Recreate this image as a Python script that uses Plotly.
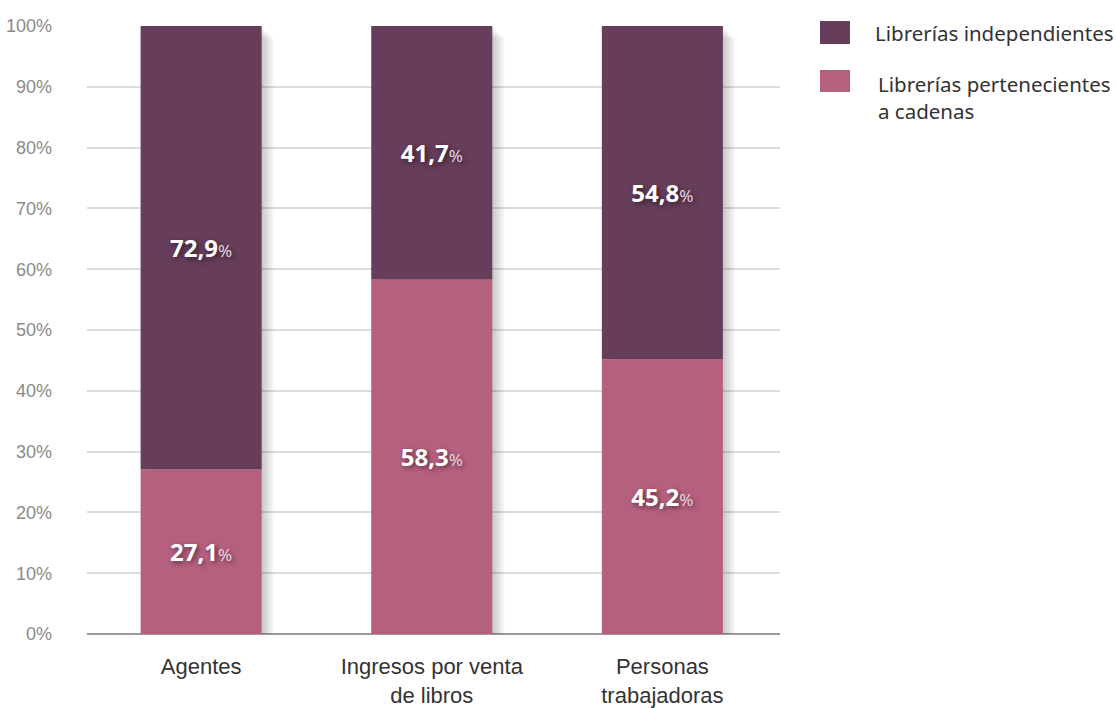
import plotly.graph_objects as go

categories = ["Agentes", "Ingresos por venta<br>de libros", "Personas<br>trabajadoras"]
independientes = [72.9, 41.7, 54.8]
cadenas = [27.1, 58.3, 45.2]
series_names = ["Librerías independientes", "Librerías pertenecientes<br>a cadenas"]
tick_vals = [0, 10, 20, 30, 40, 50, 60, 70, 80, 90, 100]
tick_text = [f"{v}%" for v in tick_vals]

DARK = "#663d5a"
PINK = "#b6607f"
LABEL_FONT = "Noto Sans, Open Sans, sans-serif"
AXIS_FONT = "Liberation Sans, Arial, sans-serif"
BAR_W = 0.525
PX_X = 1 / 230.5      # one pixel in category units
PX_Y = 100 / 608      # one pixel in value units


def label(v):
    num = f"{v:.1f}".replace(".", ",")
    return (f"<b>{num}</b><span style='font-size:17px;font-weight:normal;"
            f"fill:#ead7e0'>%</span>")


totals = [c + i for c, i in zip(cadenas, independientes)]

fig = go.Figure()
# soft drop shadow behind the bars
for s in [2, 4, 6, 8, 10, 12]:
    fig.add_trace(go.Bar(
        x=categories, y=[t - s * PX_Y for t in totals], base=0,
        width=BAR_W, offset=-BAR_W / 2 + s * PX_X,
        marker_color="rgba(0,0,0,0.035)", marker_line_width=0,
        showlegend=False, hoverinfo="skip",
    ))

fig.add_trace(go.Bar(
    x=categories, y=cadenas, base=0, width=BAR_W,
    marker_color=PINK, marker_line_width=0, showlegend=False,
    text=[label(v) for v in cadenas], textposition="inside",
    insidetextanchor="middle",
    textfont=dict(family=LABEL_FONT, size=24, color="white",
                  shadow="2px 2px 5px rgba(0,0,0,0.5)"),
    hoverinfo="skip",
))
fig.add_trace(go.Bar(
    x=categories, y=independientes, base=cadenas, width=BAR_W,
    marker_color=DARK, marker_line_width=0, showlegend=False,
    text=[label(v) for v in independientes], textposition="inside",
    insidetextanchor="middle",
    textfont=dict(family=LABEL_FONT, size=24, color="white",
                  shadow="2px 2px 5px rgba(0,0,0,0.5)"),
    hoverinfo="skip",
))

# legend drawn as paper-positioned squares and text
legend_rows = [
    dict(sq=(1.0577, 1.101, 0.9704, 1.0082), tx=1.1342, ty=0.9885),
    dict(sq=(1.0577, 1.101, 0.8914, 0.9276), tx=1.1385, ty=0.8824),
]
for name, col, row in zip(series_names, [DARK, PINK], legend_rows):
    x0, x1, y0, y1 = row["sq"]
    fig.add_shape(type="rect", xref="paper", yref="paper",
                  x0=x0, x1=x1, y0=y0, y1=y1,
                  fillcolor=col, line_width=0)
    fig.add_annotation(xref="paper", yref="paper", x=row["tx"], y=row["ty"],
                       text=name, showarrow=False, align="left",
                       xanchor="left", yanchor="middle",
                       font=dict(family=LABEL_FONT, size=20.5, color="#333333"))

fig.update_layout(
    width=1116, height=708,
    margin=dict(l=87, r=336, t=26, b=74, autoexpand=False),
    paper_bgcolor="white", plot_bgcolor="white",
    barmode="overlay",
    showlegend=False,
    xaxis=dict(
        range=[-0.495, 2.51], showgrid=False, showline=False, ticks="",
        ticklabelstandoff=17, automargin=False,
        tickfont=dict(family=AXIS_FONT, size=22, color="#333333"),
    ),
    yaxis=dict(
        range=[0, 100], tickvals=tick_vals, ticktext=tick_text,
        showgrid=True, gridcolor="#dcdcdc", gridwidth=1.5,
        zeroline=True, zerolinecolor="#9a9a9a", zerolinewidth=1.5,
        ticks="", ticklabelstandoff=34, automargin=False,
        tickfont=dict(family=AXIS_FONT, size=18, color="#8a8a8a"),
    ),
)

fig.write_html("out.html", config={"displayModeBar": False},
               post_script="document.body.style.margin='0';")
